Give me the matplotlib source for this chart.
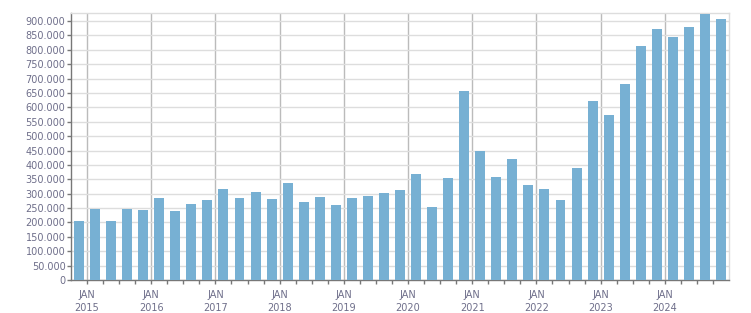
import matplotlib
matplotlib.use("Agg")
import matplotlib.pyplot as plt
from matplotlib.ticker import FuncFormatter, FixedLocator

# quarterly values (Q4 2014 .. Q4 2024)
quarters = ["Q4 2014",
            "Q1 2015", "Q2 2015", "Q3 2015", "Q4 2015",
            "Q1 2016", "Q2 2016", "Q3 2016", "Q4 2016",
            "Q1 2017", "Q2 2017", "Q3 2017", "Q4 2017",
            "Q1 2018", "Q2 2018", "Q3 2018", "Q4 2018",
            "Q1 2019", "Q2 2019", "Q3 2019", "Q4 2019",
            "Q1 2020", "Q2 2020", "Q3 2020", "Q4 2020",
            "Q1 2021", "Q2 2021", "Q3 2021", "Q4 2021",
            "Q1 2022", "Q2 2022", "Q3 2022", "Q4 2022",
            "Q1 2023", "Q2 2023", "Q3 2023", "Q4 2023",
            "Q1 2024", "Q2 2024", "Q3 2024", "Q4 2024"]
values = [206000,
          247000, 206000, 247000, 244000,
          285000, 241000, 265000, 278000,
          316000, 285000, 306000, 281000,
          337000, 271000, 288000, 261000,
          285000, 292000, 302000, 313000,
          368000, 254000, 354000, 657000,
          448000, 358000, 420000, 330000,
          316000, 278000, 389000, 622000,
          573000, 681000, 813000, 872000,
          844000, 879000, 924000, 907000]
years = ["2015", "2016", "2017", "2018", "2019",
         "2020", "2021", "2022", "2023", "2024"]

text_color = "#6e6e8a"
bar_color = "#77b0d3"

fig = plt.figure(figsize=(7.51, 3.13), dpi=100)
ax = fig.add_axes([71 / 751, 1 - 280 / 313, 658 / 751, 267 / 313])

x = list(range(len(values)))
ax.bar(x, values, width=0.62, color=bar_color, zorder=3)

ax.set_xlim(-0.5, len(values) - 0.5)
ax.set_ylim(0, 928000)

# y axis
ax.yaxis.set_major_locator(FixedLocator(range(0, 900001, 50000)))
ax.yaxis.set_major_formatter(FuncFormatter(lambda v, p: f"{int(v):,}".replace(",", ".")))
ax.grid(axis="y", color="#dddddd", linewidth=1, zorder=0)

# x axis: year labels at JAN positions, quarterly minor ticks
year_pos = [0.5 + 4 * i for i in range(len(years))]
ax.set_xticks(year_pos)
ax.set_xticklabels(["JAN\n" + y for y in years], linespacing=1.35)
ax.set_xticks([0.5 + k for k in range(len(values) - 1)], minor=True)
for p in year_pos:
    ax.axvline(p, color="#bbbbbb", linewidth=1, zorder=1)

ax.tick_params(axis="both", which="both", colors="#777777", labelcolor=text_color,
               labelsize=7, length=3, width=1)
ax.tick_params(axis="x", which="both", pad=4)
ax.tick_params(axis="y", pad=1)

for s in ["left", "bottom"]:
    ax.spines[s].set_color("#777777")
    ax.spines[s].set_linewidth(1)
for s in ["top", "right"]:
    ax.spines[s].set_color("#dddddd")
    ax.spines[s].set_linewidth(1)

fig.savefig("out.png", dpi=100)
